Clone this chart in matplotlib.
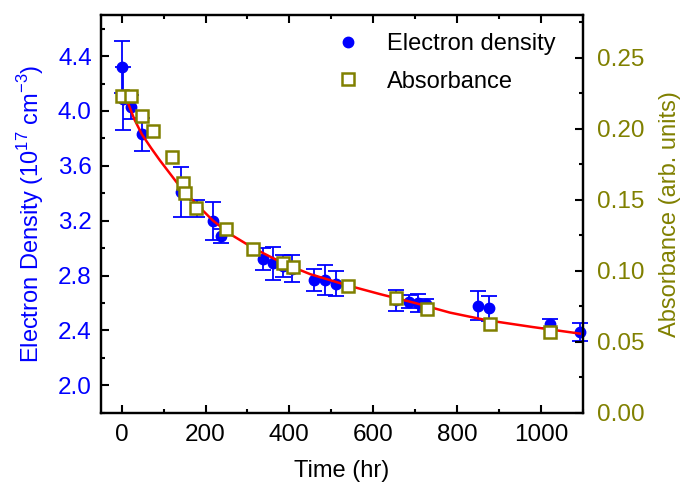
import numpy as np
import matplotlib
matplotlib.use("Agg")
import matplotlib.pyplot as plt
from matplotlib.lines import Line2D
from matplotlib.ticker import MultipleLocator, FormatStrFormatter

plt.rcParams['font.family'] = ['Liberation Sans', 'DejaVu Sans']
plt.rcParams['mathtext.fontset'] = 'custom'
plt.rcParams['mathtext.rm'] = 'Liberation Sans'

# ---- Electron density (left axis) ----
t_e = [0, 3, 22, 48, 141, 180, 218, 236, 338, 361, 384, 407, 459, 486, 512,
       654, 686, 707, 727, 849, 877, 1021, 1093]
dens = [4.32, 4.09, 4.03, 3.83, 3.41, 3.29, 3.20, 3.09, 2.92, 2.89, 2.87, 2.85,
        2.77, 2.77, 2.74, 2.62, 2.61, 2.60, 2.59, 2.58, 2.56, 2.45, 2.39]
dens_err = [0.19, 0.23, 0.09, 0.12, 0.18, 0.06, 0.14, 0.05, 0.08, 0.12, 0.08, 0.10,
            0.08, 0.11, 0.09, 0.075, 0.05, 0.065, 0.04, 0.105, 0.09, 0.03, 0.065]

# ---- Absorbance (right axis) ----
t_a = [0, 22, 48, 74, 121, 145, 151, 177, 249, 314, 385, 408, 539, 654, 729, 878, 1021]
absorb = [0.223, 0.223, 0.209, 0.198, 0.180, 0.162, 0.155, 0.144, 0.129, 0.115,
          0.1055, 0.1025, 0.089, 0.0806, 0.0728, 0.0622, 0.057]

# ---- Fit curve ----
t_fit = [16, 30, 48, 70, 91, 131, 175, 218, 260, 314, 385, 450, 537, 616, 700,
         783, 870, 980, 1093]
dens_fit = [4.05, 3.94, 3.83, 3.73, 3.64, 3.48, 3.33, 3.20, 3.10, 3.00, 2.89,
            2.81, 2.73, 2.665, 2.60, 2.53, 2.475, 2.425, 2.377]

blue = '#0000ff'
olive = '#808000'

fig = plt.figure(figsize=(6.81, 4.83), dpi=100)
ax = fig.add_axes([0.148, 0.1455, 0.7077, 0.8235])
ax2 = ax.twinx()

eb = ax.errorbar(t_e, dens, yerr=dens_err, fmt='o', color=blue, ms=7.5,
                 elinewidth=1.3, capsize=5.5, capthick=1.3, zorder=2)
for art in eb.lines[0:1] + tuple(eb.lines[1]) + tuple(eb.lines[2]):
    art.set_clip_on(False)
ax.plot(t_fit, dens_fit, '-', color='red', lw=1.8, zorder=3)
ax2.plot(t_a, absorb, 's', ms=9, mfc='white', mec=olive, mew=1.8, zorder=4)

ax.set_xlim(-50, 1100)
ax.set_ylim(1.8, 4.7)
ax2.set_ylim(0, 0.28)

ax.xaxis.set_major_locator(MultipleLocator(200))
ax.xaxis.set_minor_locator(MultipleLocator(100))
ax.yaxis.set_major_locator(MultipleLocator(0.4))
ax.yaxis.set_minor_locator(MultipleLocator(0.2))
ax2.yaxis.set_major_locator(MultipleLocator(0.05))
ax2.yaxis.set_minor_locator(MultipleLocator(0.025))
ax.yaxis.set_major_formatter(FormatStrFormatter('%.1f'))
ax2.yaxis.set_major_formatter(FormatStrFormatter('%.2f'))

ax.tick_params(axis='x', which='both', direction='in', top=True,
               labelsize=17.5, pad=8)
ax.tick_params(axis='y', which='both', direction='in', right=False,
               labelsize=17.5, labelcolor=blue, pad=6.5)
ax2.tick_params(axis='y', which='both', direction='in', labelsize=17.5,
                labelcolor=olive, pad=10.5)
for a_ in (ax, ax2):
    a_.tick_params(which='major', length=6, width=1.5)
    a_.tick_params(which='minor', length=3, width=1.5)
    for s in a_.spines.values():
        s.set_linewidth(1.6)

ax.set_xlabel('Time (hr)', fontsize=17, labelpad=10)
ax.set_ylabel(r'Electron Density (10$^{17}$ cm$^{-3}$)', fontsize=17,
              color=blue, labelpad=8.5)
ax2.set_ylabel('Absorbance (arb. units)', fontsize=17, color=olive, labelpad=10)

handles = [Line2D([], [], ls='none', marker='o', color=blue, ms=7.5),
           Line2D([], [], ls='none', marker='s', ms=9, mfc='white', mec=olive, mew=1.8)]
ax2.legend(handles, ['Electron density', 'Absorbance'], loc='upper left',
           bbox_to_anchor=(0.464, 0.955), frameon=False, fontsize=17,
           borderpad=0, borderaxespad=0, handletextpad=0.65, labelspacing=0.67)

fig.savefig('out.png', dpi=100)
